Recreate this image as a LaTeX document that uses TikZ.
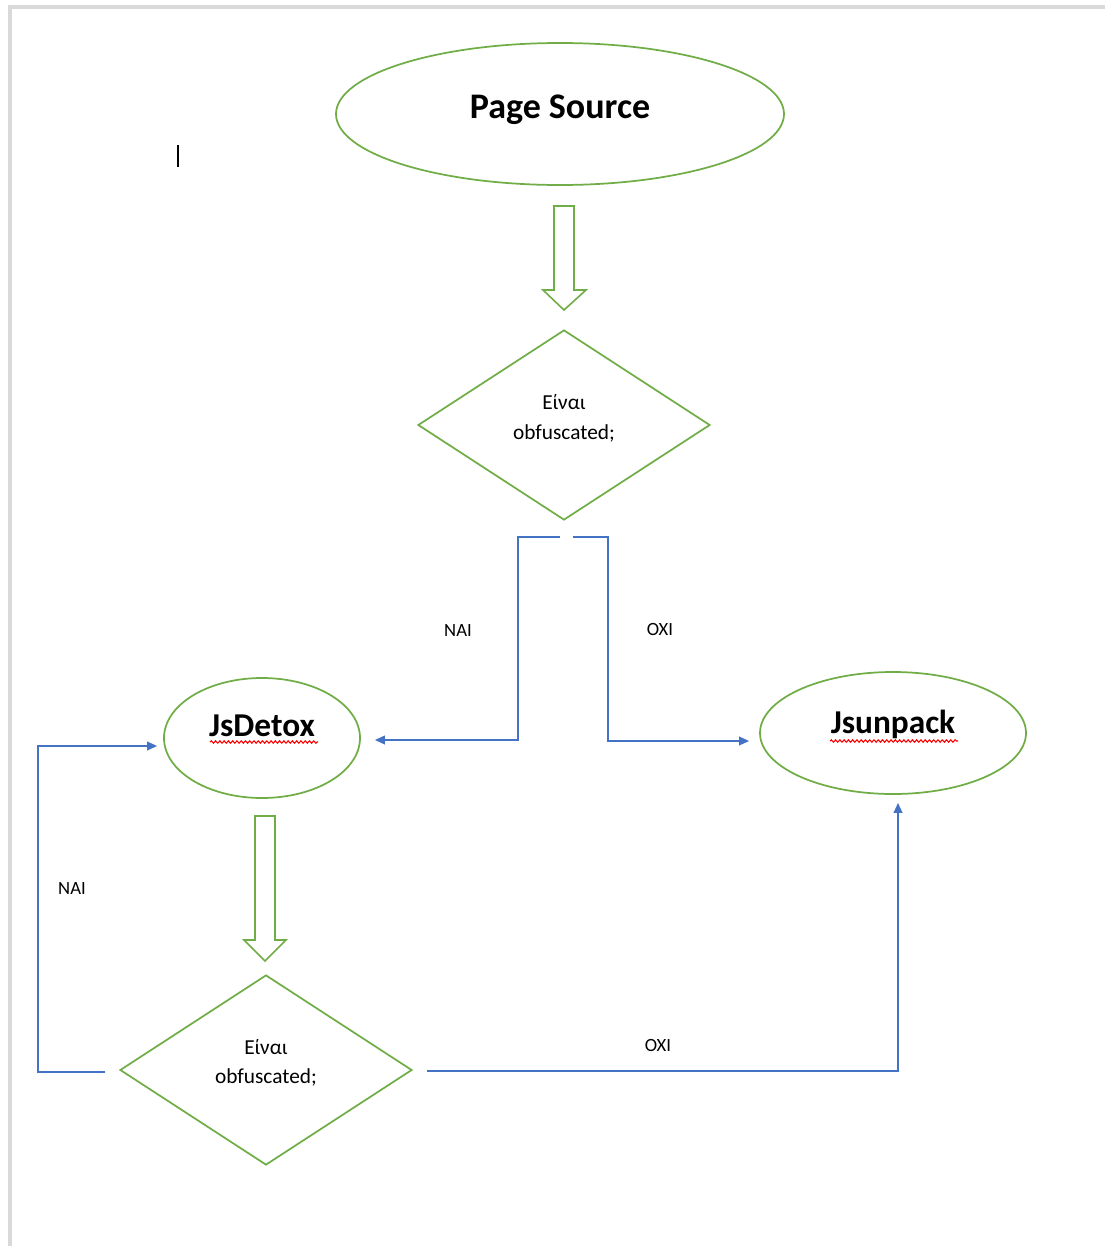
\documentclass[tikz,border=0pt]{standalone}
\usepackage{fontspec}
\setmainfont{Carlito}
\usetikzlibrary{shapes.geometric,arrows.meta,decorations.pathmorphing}
\definecolor{flgreen}{HTML}{70AD47}
\definecolor{flblue}{HTML}{4472C4}
\definecolor{frame}{HTML}{D9D9D9}
\begin{document}
\begin{tikzpicture}[x=0.75pt,y=-0.75pt,
  oval/.style={ellipse,draw=flgreen,line width=1.3pt,inner sep=0pt},
  decision/.style={diamond,draw=flgreen,line width=1.3pt,inner sep=0pt,minimum width=219pt,minimum height=142.5pt},
  blockarrow/.style={draw=flgreen,line width=1.2pt,line join=miter},
  conn/.style={draw=flblue,line width=1.2pt,-{Triangle[length=7.5pt,width=6.5pt]}},
  bigtext/.style={font=\bfseries\fontsize{27}{32}\selectfont,inner sep=0pt,anchor=base},
  nametext/.style={font=\bfseries\fontsize{25}{30}\selectfont,inner sep=0pt,anchor=base},
  qtext/.style={font=\fontsize{16}{19}\selectfont,inner sep=0pt,anchor=base},
  lbl/.style={font=\fontsize{14}{17}\selectfont,inner sep=0pt},
  squiggle/.style={draw=red,line width=0.8pt,decorate,decoration={snake,amplitude=0.9pt,segment length=3.2pt}}
]
\useasboundingbox (0,0) rectangle (1105,1246);
% page frame
\draw[frame,line width=2.5pt] (8,7) -- (1105,7);
\draw[frame,line width=2.5pt] (10,7) -- (10,1246);
% text cursor
\draw[line width=1.5pt] (178,145) -- (178,167);

% nodes
\node[oval,minimum width=336pt,minimum height=106.5pt] (src) at (560,114) {};
\node[bigtext] (srct) at (560,118) {Page Source};

\node[decision] (d1) at (564,425) {};
\node[qtext] (d1a) at (564,409) {Είναι};
\node[qtext] (d1b) at (564,439) {obfuscated;};

\node[oval,minimum width=147pt,minimum height=90pt] (jsd) at (262,738) {};
\node[nametext] (jsdt) at (262,736) {JsDetox};

\node[oval,minimum width=199.5pt,minimum height=91.5pt] (jsu) at (893,733) {};
\node[nametext] (jsut) at (893,733) {Jsunpack};

\node[decision] (d2) at (266,1070) {};
\node[qtext] (d2a) at (266,1054) {Είναι};
\node[qtext] (d2b) at (266,1083) {obfuscated;};

% spell-check underlines
\draw[squiggle] (210,742) -- (318,742);
\draw[squiggle] (830,741) -- (958,741);

% block arrows
\draw[blockarrow] (554,206) -- (574,206) -- (574,290) -- (586,290) -- (564,310) -- (543,290) -- (554,290) -- cycle;
\draw[blockarrow] (255,816) -- (275,816) -- (275,940) -- (286,940) -- (265,961) -- (244,940) -- (255,940) -- cycle;

% connectors
\coordinate (d1l) at (560,537);
\coordinate (d1r) at (573,537);
\coordinate (d2l) at (105,1072);
\coordinate (d2r) at (427,1071);

\draw[conn] (d1l) -- (518,537) |- ([xshift=10.5pt,yshift=-1.5pt]jsd.east);
\draw[conn] (d1r) -- (608,537) |- ([xshift=-7.5pt,yshift=-6pt]jsu.west);
\draw[conn] (d2l) -- (38,1072) |- ([xshift=-4.5pt,yshift=-6pt]jsd.west);
\draw[conn] (d2r) -| ([xshift=3.75pt,yshift=-6pt]jsu.south);

% labels
\node[lbl] (l1) at (458,631) {ΝΑΙ};
\node[lbl] (l2) at (660,629) {ΟΧΙ};
\node[lbl] (l3) at (72,889) {ΝΑΙ};
\node[lbl] (l4) at (658,1045) {ΟΧΙ};
\end{tikzpicture}
\end{document}
